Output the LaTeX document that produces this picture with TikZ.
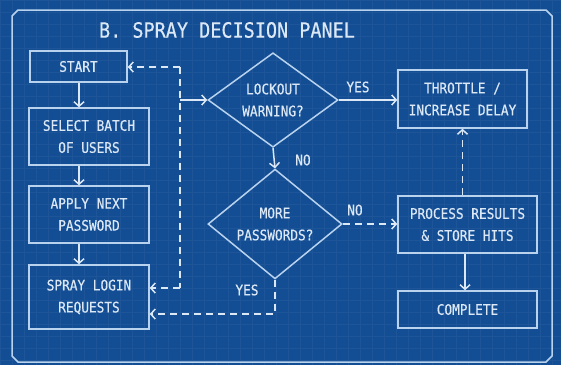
\documentclass[tikz,border=0pt]{standalone}
\usepackage{fontspec}
\setmainfont[FakeStretch=0.88,FakeBold=0.4]{DejaVu Sans Mono}
\usetikzlibrary{arrows.meta,shapes.geometric,calc}
\definecolor{bp}{HTML}{134E94}
\definecolor{ink}{HTML}{DCE8F6}
\definecolor{edge}{HTML}{B9D3EE}
\begin{document}
\begin{tikzpicture}[x=1pt,y=-1pt,
  txt/.style={text=ink,font=\fontsize{14.5}{22}\selectfont},
  box/.style={txt,draw=edge,line width=1.5pt,align=center,inner sep=0pt,rectangle},
  decision/.style={txt,draw=edge,line width=1.5pt,align=center,diamond,inner sep=0pt},
  conn/.style={draw=ink,line width=1.5pt,-{Straight Barb[length=4.5pt,width=10pt]}},
  dconn/.style={conn,dash pattern=on 7pt off 5pt},
  dline/.style={draw=ink,line width=1.5pt,dash pattern=on 7pt off 5pt},
  lbl/.style={txt}]
% blueprint sheet with faint grid
\fill[bp] (0,0) rectangle (561,365);
\useasboundingbox (0,0) rectangle (561,365);
\draw[white,opacity=0.045,line width=0.4pt,step=12pt] (0,0) grid (561,365);
% panel frame with clipped corners
\draw[edge,line width=1.5pt] (18,10) -- (546,10) -- (552,16) -- (552,356) -- (546,362)
  -- (18,362) -- (12,356) -- (12,16) -- cycle;
\node[text=ink,font=\fontsize{21}{24}\selectfont] (title) at (227,30) {B. SPRAY DECISION PANEL};

% process steps
\node[box,minimum width=97pt,minimum height=31pt] (start) at (78.5,66.5) {START};
\node[box,minimum width=120pt,minimum height=57pt] (select) at (89,136.5) {SELECT BATCH\\OF USERS};
\node[box,minimum width=120pt,minimum height=57pt] (apply) at (89,214.5) {APPLY NEXT\\PASSWORD};
\node[box,minimum width=120pt,minimum height=64pt] (spray) at (89,297) {SPRAY LOGIN\\REQUESTS};
\node[decision,minimum width=130pt,minimum height=94pt] (lockout) at (273,100) {LOCKOUT\\WARNING?};
\node[decision,minimum width=134pt,minimum height=102pt] (more) at (275,224) {MORE\\PASSWORDS?};
\node[box,minimum width=129pt,minimum height=58pt] (throttle) at (462.5,99) {THROTTLE /\\INCREASE DELAY};
\node[box,minimum width=139pt,minimum height=57pt] (process) at (467.5,224.5) {PROCESS RESULTS\\\& STORE HITS};
\node[box,minimum width=139pt,minimum height=37pt] (complete) at (467.5,309.5) {COMPLETE};

% main column
\coordinate (spine) at (79,0);
\draw[conn] (spine |- start.south) -- (spine |- select.north);
\draw[conn] (spine |- select.south) -- (spine |- apply.north);
\draw[conn] (spine |- apply.south) -- (spine |- spray.north);

% feedback bus
\coordinate (bt) at (180,67);
\coordinate (bm) at (180,100);
\coordinate (bb) at (180,288);
\draw[dline] (bt) -- (bb);
\draw[dconn] (bt) -- (start.east |- bt);
\draw[dconn] (bb) -- (spray.east |- bb);
\draw[conn] (bm) -- (lockout.west);

% decisions
\draw[conn] (lockout.south) -- (more.north);
\node[lbl] (no1) at (303,160) {NO};
\draw[conn] (lockout.east) -- (throttle.west |- lockout.east);
\node[lbl] (yes1) at (358,87) {YES};
\draw[dconn] (more.east) -- (process.west |- more.east);
\node[lbl] (no2) at (355,210) {NO};
\coordinate (yb) at (275,314);
\draw[dconn] (more.south) -- (yb) -- (spray.east |- yb);
\node[lbl] (yes2) at (247,290) {YES};

% results
\draw[dconn] (throttle.south |- process.north) -- (throttle.south);
\draw[conn] (process.south -| 465,0) -- (complete.north -| 465,0);
\end{tikzpicture}
\end{document}
